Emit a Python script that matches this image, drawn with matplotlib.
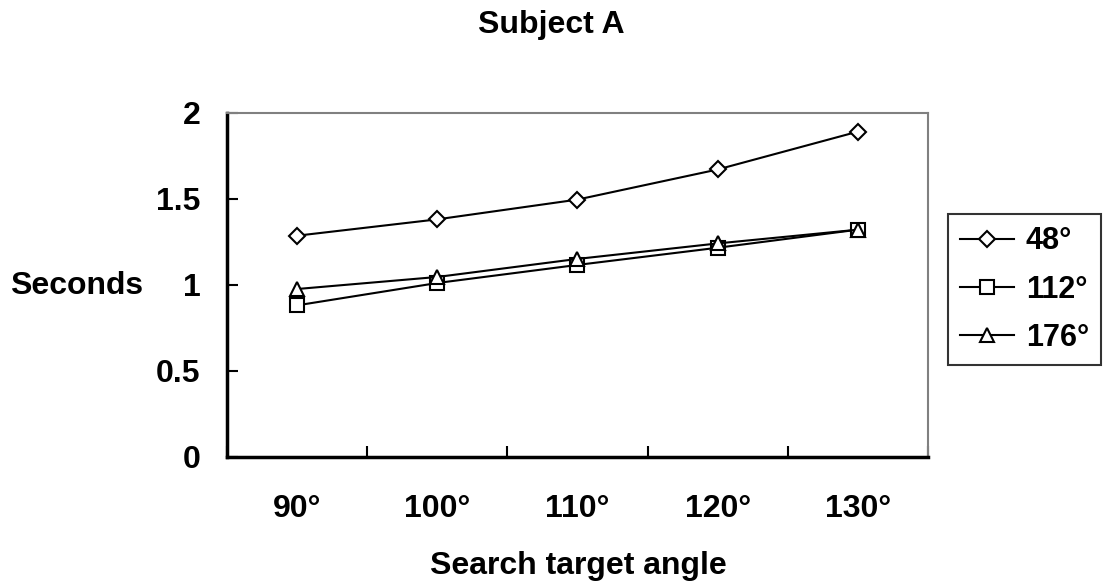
import matplotlib.pyplot as plt

plt.rcParams['font.family'] = ['Liberation Sans', 'DejaVu Sans']
plt.rcParams['font.weight'] = 'bold'

# data
angles = ['90°', '100°', '110°', '120°', '130°']
s48 = [1.285, 1.38, 1.495, 1.67, 1.89]
s112 = [0.88, 1.01, 1.115, 1.215, 1.32]
s176 = [0.975, 1.045, 1.15, 1.24, 1.32]

fig = plt.figure(figsize=(11.03, 5.88), dpi=100)
ax = fig.add_axes([0.2058, 0.2233, 0.6355, 0.585])

x = range(len(angles))
style = dict(color='black', linewidth=1.5, markersize=10, markerfacecolor='white',
             markeredgecolor='black', markeredgewidth=1.5)
ax.plot(x, s48, marker='D', label='48°', **dict(style, markersize=8.5))
ax.plot(x, s112, marker='s', label='112°', **style)
ax.plot(x, s176, marker='^', label='176°', **style)

ax.set_xlim(-0.5, 4.5)
ax.set_ylim(0, 2)
ax.set_yticks([0, 0.5, 1, 1.5, 2])
ax.set_yticklabels(['0', '0.5', '1', '1.5', '2'])
ax.set_xticks([i - 0.5 for i in range(6)])
ax.set_xticklabels([])
ax.set_xticks(list(x), minor=True)
ax.set_xticklabels(angles, minor=True)
ax.tick_params(axis='x', which='minor', length=0, pad=27, labelsize=23)
ax.tick_params(axis='x', which='major', direction='in', length=8, width=1.5)
ax.tick_params(axis='y', direction='in', length=8, width=1.5, pad=19, labelsize=23)

for side in ['left', 'bottom']:
    ax.spines[side].set_linewidth(2.5)
for side in ['top', 'right']:
    ax.spines[side].set_color('#808080')
    ax.spines[side].set_linewidth(1.5)

fig.text(0.5, 0.957, 'Subject A', ha='center', va='center', fontsize=23, fontweight='bold')
fig.text(0.069, 0.513, 'Seconds', ha='center', va='center', fontsize=23, fontweight='bold')
fig.text(0.524, 0.038, 'Search target angle', ha='center', va='center', fontsize=23, fontweight='bold')

leg = fig.legend(loc='upper left', bbox_to_anchor=(948 / 1103, 1 - 214 / 588),
                 frameon=True, fancybox=False, fontsize=22, handlelength=1.75,
                 handletextpad=0.4, borderpad=0.4, labelspacing=0.6, borderaxespad=0)
leg.get_frame().set_edgecolor('black')
leg.get_frame().set_linewidth(1.5)

fig.savefig('out.png', dpi=100)
